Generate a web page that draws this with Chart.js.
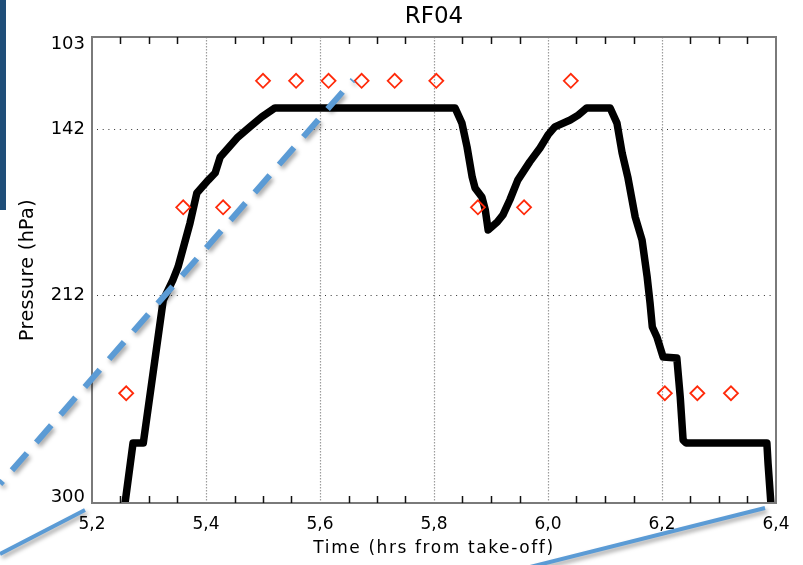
<!DOCTYPE html>
<html>
<head>
<meta charset="utf-8">
<title>RF04</title>
<script src="https://cdn.jsdelivr.net/npm/chart.js@4.4.1/dist/chart.umd.min.js"></script>
<style>
  html, body { margin: 0; padding: 0; background: #ffffff; }
  #wrap { width: 803px; height: 565px; position: relative; }
</style>
</head>
<body>
<div id="wrap"><canvas id="chart" width="803" height="565"></canvas></div>
<script>
// Flight track: time after take-off (hours) and pressure level (hPa)
const flightTime = [
  5.258, 5.272, 5.290, 5.325, 5.342, 5.351, 5.372, 5.384, 5.404, 5.416,
  5.425, 5.439, 5.456, 5.477, 5.498, 5.521, 5.837, 5.849, 5.858, 5.867,
  5.872, 5.884, 5.890, 5.895, 5.911, 5.921, 5.933, 5.947, 5.968, 5.986,
  6.000, 6.012, 6.039, 6.053, 6.068, 6.109, 6.121, 6.130, 6.140, 6.153,
  6.165, 6.174, 6.179, 6.183, 6.191, 6.202, 6.226, 6.232, 6.237, 6.242,
  6.384, 6.386, 6.391
];
const flightPressure = [
  300.0, 274.6, 274.6, 214.2, 205.7, 200.2, 181.6, 168.9, 163.5, 160.5,
  153.7, 149.9, 145.3, 141.0, 136.8, 133.0, 133.0, 139.4, 149.5, 162.2,
  166.8, 170.6, 176.1, 184.6, 181.2, 178.2, 171.9, 163.5, 155.8, 149.9,
  144.4, 141.0, 138.1, 136.0, 133.0, 133.0, 139.4, 152.0, 162.2, 179.1,
  188.8, 204.5, 215.4, 225.6, 229.8, 238.3, 238.7, 255.2, 273.4, 274.6,
  274.6, 283.1, 300.0
];

// Sampling events
const sampleTime = [
  5.260, 5.360, 5.430, 5.500, 5.558, 5.615, 5.673, 5.731,
  5.804, 5.877, 5.958, 6.040, 6.205, 6.262, 6.321
];
const samplePressure = [
  253.6, 175.0, 175.0, 121.5, 121.5, 121.5, 121.5, 121.5,
  121.5, 175.0, 175.0, 121.5, 253.6, 253.6, 253.6
];

// Axis ticks
const timeTicks = [5.2, 5.4, 5.6, 5.8, 6.0, 6.2, 6.4];
const timeMinorTicks = [
  5.25, 5.30, 5.35, 5.45, 5.50, 5.55, 5.65, 5.70, 5.75,
  5.85, 5.90, 5.95, 6.05, 6.10, 6.15, 6.25, 6.30, 6.35
];
const pressureTicks = [103, 142, 212, 300];

const FONT = "'DejaVu Sans', sans-serif";

// Dotted grid, frame, inward minor ticks, pressure labels and titles
const axisDecor = {
  id: 'axisDecor',
  beforeDatasetsDraw(chart) {
    const { ctx, chartArea: a, scales: { x, y } } = chart;
    ctx.save();
    ctx.strokeStyle = '#9c9c9c';
    ctx.lineWidth = 1.2;
    ctx.setLineDash([1.5, 1.5]);
    timeTicks.forEach(v => {
      if (v <= x.min || v >= x.max) return;
      const px = Math.round(x.getPixelForValue(v)) + 0.5;
      ctx.beginPath();
      ctx.moveTo(px, a.top);
      ctx.lineTo(px, a.bottom);
      ctx.stroke();
    });
    ctx.strokeStyle = '#333333';
    ctx.lineWidth = 1;
    ctx.setLineDash([1, 4.7]);
    pressureTicks.forEach(v => {
      if (v <= y.min || v >= y.max) return;
      const py = Math.round(y.getPixelForValue(v)) + 0.5;
      ctx.beginPath();
      ctx.moveTo(a.left + 5, py);
      ctx.lineTo(a.right - 5, py);
      ctx.stroke();
    });
    ctx.restore();
  },
  afterDatasetsDraw(chart) {
    const { ctx, chartArea: a, scales: { x } } = chart;
    ctx.save();
    ctx.strokeStyle = '#7a7a7a';
    ctx.lineWidth = 2;
    ctx.strokeRect(a.left, a.top, a.right - a.left, a.bottom - a.top);
    ctx.strokeStyle = '#111111';
    ctx.lineWidth = 1.5;
    timeMinorTicks.forEach(v => {
      const px = Math.round(x.getPixelForValue(v)) + 0.5;
      ctx.beginPath();
      ctx.moveTo(px, a.top);
      ctx.lineTo(px, a.top + 7);
      ctx.moveTo(px, a.bottom);
      ctx.lineTo(px, a.bottom - 7);
      ctx.stroke();
    });
    ctx.restore();
  },
  afterDraw(chart) {
    const { ctx, chartArea: a, scales: { y } } = chart;
    const cx = (a.left + a.right) / 2;
    const cy = (a.top + a.bottom) / 2;
    ctx.save();
    ctx.fillStyle = '#000000';
    ctx.textBaseline = 'middle';

    // pressure labels, kept inside the frame at its ends
    ctx.textAlign = 'right';
    ctx.font = '18px ' + FONT;
    pressureTicks.forEach(v => {
      const py = Math.min(Math.max(y.getPixelForValue(v), a.top + 7), a.bottom - 6);
      ctx.fillText(String(v), a.left - 7, py);
    });

    ctx.textAlign = 'center';
    ctx.font = '23px ' + FONT;
    ctx.fillText('RF04', cx, 17);

    ctx.font = '17px ' + FONT;
    ctx.letterSpacing = '1.6px';
    ctx.fillText('Time (hrs from take-off)', cx, 549);

    ctx.font = '19px ' + FONT;
    ctx.letterSpacing = '0.4px';
    ctx.translate(28, cy);
    ctx.rotate(-Math.PI / 2);
    ctx.fillText('Pressure (hPa)', 0, 0);
    ctx.restore();
  }
};

// Presentation strokes laid over the figure
const overlayStrokes = {
  id: 'overlayStrokes',
  afterDraw(chart) {
    const ctx = chart.ctx;
    ctx.save();
    ctx.fillStyle = '#1f4e79';
    ctx.fillRect(0, 0, 6, 210);

    ctx.shadowColor = 'rgba(0,0,0,0.35)';
    ctx.shadowBlur = 4;
    ctx.shadowOffsetX = 2;
    ctx.shadowOffsetY = 3;
    ctx.strokeStyle = '#5b9bd5';
    ctx.lineCap = 'butt';

    ctx.lineWidth = 6;
    ctx.setLineDash([22.8, 14.1]);
    ctx.lineDashOffset = 18.7;
    ctx.beginPath();
    ctx.moveTo(0, 484);
    ctx.lineTo(353, 80);
    ctx.stroke();

    ctx.setLineDash([]);
    ctx.lineWidth = 4;
    ctx.beginPath();
    ctx.moveTo(0, 554);
    ctx.lineTo(85, 510);
    ctx.stroke();
    ctx.beginPath();
    ctx.moveTo(530, 567);
    ctx.lineTo(765, 508);
    ctx.stroke();
    ctx.restore();
  }
};

new Chart(document.getElementById('chart'), {
  type: 'line',
  data: {
    datasets: [
      {
        label: 'Flight track',
        data: flightTime.map((t, i) => ({ x: t, y: flightPressure[i] })),
        borderColor: '#000000',
        borderWidth: 7.5,
        borderJoinStyle: 'round',
        borderCapStyle: 'round',
        pointRadius: 0,
        tension: 0,
        order: 1
      },
      {
        label: 'Samples',
        data: sampleTime.map((t, i) => ({ x: t, y: samplePressure[i] })),
        showLine: false,
        pointStyle: 'rectRot',
        pointRadius: 7,
        pointBorderWidth: 1.8,
        pointBorderColor: '#ff2a0a',
        pointBackgroundColor: 'rgba(0,0,0,0)',
        order: 0
      }
    ]
  },
  options: {
    responsive: false,
    animation: false,
    devicePixelRatio: 1,
    layout: { padding: { top: 37, right: 27, bottom: 0, left: 0 } },
    plugins: {
      legend: { display: false },
      title: { display: false },
      tooltip: { enabled: false }
    },
    scales: {
      x: {
        type: 'linear',
        min: 5.2,
        max: 6.4,
        afterBuildTicks: s => { s.ticks = timeTicks.map(v => ({ value: v })); },
        afterFit: s => { s.height = 62; },
        grid: { display: false, drawTicks: false },
        border: { display: false },
        ticks: {
          padding: 11,
          autoSkip: false,
          maxRotation: 0,
          color: '#000000',
          font: { family: FONT, size: 17 },
          callback: v => Number(v).toFixed(1).replace('.', ',')
        }
      },
      y: {
        type: 'linear',
        reverse: true,
        min: 103,
        max: 300,
        afterBuildTicks: s => { s.ticks = pressureTicks.map(v => ({ value: v })); },
        afterFit: s => { s.width = 92; },
        grid: { display: false, drawTicks: false },
        border: { display: false },
        ticks: { display: false }
      }
    }
  },
  plugins: [axisDecor, overlayStrokes]
});
</script>
</body>
</html>
